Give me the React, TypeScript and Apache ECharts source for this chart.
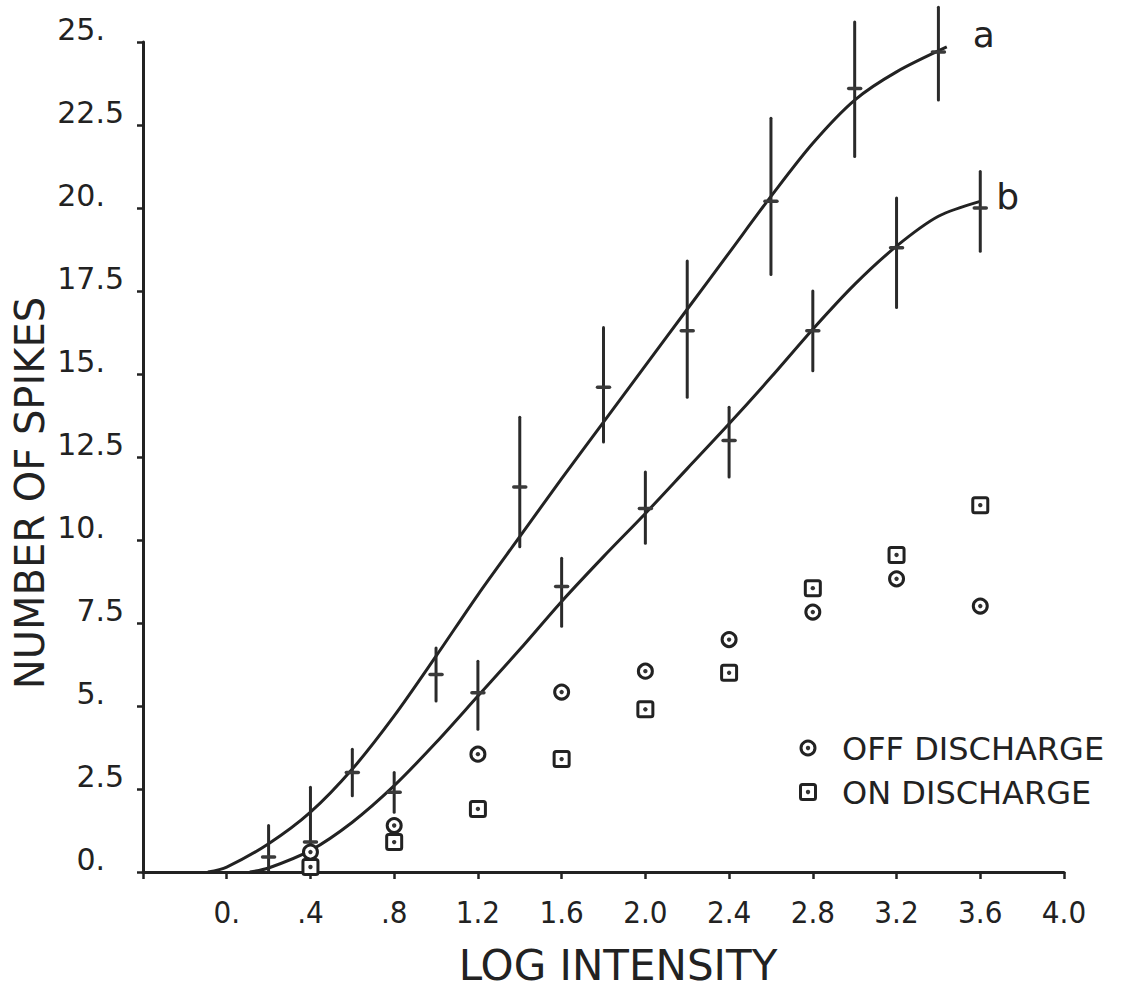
import React, { useEffect, useRef } from "react";
import * as echarts from "echarts";

// ---- data ----
const xTickLabels = ["", "0.", ".4", ".8", "1.2", "1.6", "2.0", "2.4", "2.8", "3.2", "3.6", "4.0"];
const yTickLabels = ["0.", "2.5", "5.", "7.5", "10.", "12.5", "15.", "17.5", "20.", "22.5", "25."];

// fitted curves (x, spikes)
const curveA: number[][] = [
  [-0.09, 0], [0.0, 0.15], [0.2, 0.85], [0.4, 1.8], [0.6, 3.1], [0.8, 4.7], [1.0, 6.5],
  [1.2, 8.35], [1.4, 10.1], [1.6, 11.85], [1.8, 13.55], [2.0, 15.25], [2.2, 16.95],
  [2.4, 18.65], [2.6, 20.35], [2.8, 21.95], [3.0, 23.25], [3.2, 24.1], [3.44, 24.85],
];
const curveB: number[][] = [
  [0.11, 0], [0.2, 0.12], [0.4, 0.65], [0.6, 1.5], [0.8, 2.6], [1.0, 3.9], [1.2, 5.3],
  [1.4, 6.7], [1.6, 8.15], [1.8, 9.5], [2.0, 10.8], [2.2, 12.15], [2.4, 13.5],
  [2.6, 14.9], [2.8, 16.35], [3.0, 17.7], [3.2, 18.85], [3.4, 19.75], [3.6, 20.2],
];

// error bars: [x, mean, low, high]
const barsA: number[][] = [
  [0.2, 0.45, 0.05, 1.4], [0.6, 3.0, 2.3, 3.7], [1.0, 5.95, 5.15, 6.75],
  [1.4, 11.6, 9.8, 13.7], [1.8, 14.6, 12.95, 16.4], [2.2, 16.3, 14.3, 18.4],
  [2.6, 20.2, 18.0, 22.7], [3.0, 23.6, 21.55, 25.6], [3.4, 24.7, 23.25, 26.05],
];
const barsB: number[][] = [
  [0.4, 0.9, 0, 2.55], [0.8, 2.4, 1.8, 3.0], [1.2, 5.4, 4.3, 6.35],
  [1.6, 8.6, 7.4, 9.45], [2.0, 10.95, 9.9, 12.05], [2.4, 13.0, 11.9, 14.0],
  [2.8, 16.3, 15.1, 17.5], [3.2, 18.8, 17.0, 20.3], [3.6, 20.0, 18.7, 21.1],
];

const dischargeX = [0.4, 0.8, 1.2, 1.6, 2.0, 2.4, 2.8, 3.2, 3.6];
const offDischarge = [0.6, 1.4, 3.55, 5.42, 6.05, 7.0, 7.83, 8.83, 8.01];
const onDischarge = [0.15, 0.9, 1.9, 3.4, 4.9, 6.0, 8.55, 9.55, 11.05];

const INK = "#222222";
const FONT = "'DejaVu Sans', 'Noto Sans', sans-serif";
const NARROW = "'DejaVu Sans Condensed', 'Liberation Sans Narrow', 'DejaVu Sans', sans-serif";

const ringMarker = (cx: number, cy: number) => ({
  type: "group",
  children: [
    { type: "circle", shape: { cx, cy, r: 7 }, style: { fill: "#fff", stroke: INK, lineWidth: 3 } },
    { type: "circle", shape: { cx, cy, r: 2.2 }, style: { fill: "#333" } },
  ],
});
const squareMarker = (cx: number, cy: number) => ({
  type: "group",
  children: [
    { type: "rect", shape: { x: cx - 7.5, y: cy - 7.5, width: 15, height: 15, r: 2 }, style: { fill: "#fff", stroke: INK, lineWidth: 3 } },
    { type: "circle", shape: { cx, cy, r: 2.2 }, style: { fill: "#333" } },
  ],
});

const errorBarRender = (_p: any, api: any) => {
  const x = api.value(0);
  const m = api.coord([x, api.value(1)]);
  const lo = api.coord([x, api.value(2)]);
  const hi = api.coord([x, api.value(3)]);
  return {
    type: "group",
    children: [
      { type: "line", shape: { x1: lo[0], y1: lo[1], x2: hi[0], y2: hi[1] }, style: { stroke: "#2a2a2a", lineWidth: 3, lineCap: "round" } },
      { type: "line", shape: { x1: m[0] - 6, y1: m[1], x2: m[0] + 6, y2: m[1] }, style: { stroke: "#3a3a3a", lineWidth: 3.5, lineCap: "round" } },
    ],
  };
};

export default function App() {
  const ref = useRef<HTMLDivElement>(null);
  useEffect(() => {
    document.body.style.margin = "0";
    const chart = echarts.init(ref.current!, null, { renderer: "svg" });
    const curveLine = (name: string, data: number[][], lbl: string, offset: number[]) => ({
      name,
      type: "line",
      data,
      smooth: 0.3,
      symbol: "none",
      z: 3,
      lineStyle: { color: INK, width: 3 },
      endLabel: { show: true, formatter: lbl, fontSize: 36, fontFamily: FONT, color: INK, offset },
    });
    chart.setOption({
      animation: false,
      backgroundColor: "#ffffff",
      grid: { left: 143, right: 60, top: 42, bottom: 116, containLabel: false },
      xAxis: {
        type: "value",
        min: -0.4,
        max: 4.0,
        interval: 0.4,
        splitLine: { show: false },
        axisLine: { onZero: false, lineStyle: { color: INK, width: 3 } },
        axisTick: { length: 7, lineStyle: { color: INK, width: 2.5 } },
        axisLabel: {
          margin: 24,
          fontSize: 31,
          fontFamily: NARROW,
          color: INK,
          formatter: (v: number) => xTickLabels[Math.round((v + 0.4) / 0.4)] ?? "",
        },
      },
      yAxis: {
        type: "value",
        min: 0,
        max: 25,
        interval: 2.5,
        splitLine: { show: false },
        axisLine: { onZero: false, lineStyle: { color: INK, width: 3 } },
        axisTick: { length: 6, lineStyle: { color: INK, width: 2.5 } },
        axisLabel: {
          margin: 19,
          color: INK,
          verticalAlign: "bottom",
          lineHeight: 26,
          formatter: (v: number) => {
            const s = yTickLabels[Math.round(v / 2.5)] ?? "";
            const k = s.indexOf(".");
            const frac = s.slice(k + 1);
            return `{i|${s.slice(0, k + 1)}}{f|${frac === "" ? "\u00a0" : frac}}`;
          },
          rich: {
            i: { fontSize: 30, fontFamily: FONT, color: INK, lineHeight: 26 },
            f: { fontSize: 30, fontFamily: FONT, color: INK, width: 19, lineHeight: 26 },
          },
        },
      },
      series: [
        curveLine("a", curveA, "a", [18, -12]),
        curveLine("b", curveB, "b", [8, -5]),
        { name: "bars a", type: "custom", clip: false, z: 4, data: barsA, renderItem: errorBarRender },
        { name: "bars b", type: "custom", clip: false, z: 4, data: barsB, renderItem: errorBarRender },
        {
          name: "OFF DISCHARGE",
          type: "custom",
          z: 5,
          clip: false,
          data: dischargeX.map((x, i) => [x, offDischarge[i]]),
          renderItem: (_p: any, api: any) => {
            const c = api.coord([api.value(0), api.value(1)]);
            return ringMarker(c[0], c[1]);
          },
        },
        {
          name: "ON DISCHARGE",
          type: "custom",
          z: 5,
          clip: false,
          data: dischargeX.map((x, i) => [x, onDischarge[i]]),
          renderItem: (_p: any, api: any) => {
            const c = api.coord([api.value(0), api.value(1)]);
            return squareMarker(c[0], c[1]);
          },
        },
      ],
      graphic: [
        {
          type: "text",
          x: 30,
          y: 493,
          rotation: Math.PI / 2,
          style: { text: "NUMBER OF SPIKES", fontSize: 40, fontFamily: FONT, fill: INK, align: "center", verticalAlign: "middle" },
        },
        {
          type: "text",
          x: 618,
          y: 965,
          style: { text: "LOG INTENSITY", fontSize: 42, fontFamily: FONT, fill: INK, align: "center", verticalAlign: "middle" },
        },
        { type: "group", children: [ringMarker(808, 748)] },
        { type: "text", x: 842, y: 749, style: { text: "OFF DISCHARGE", fontSize: 32, fontFamily: FONT, fill: INK, verticalAlign: "middle" } },
        { type: "group", children: [squareMarker(808, 792)] },
        { type: "text", x: 842, y: 793, style: { text: "ON DISCHARGE", fontSize: 32, fontFamily: FONT, fill: INK, verticalAlign: "middle" } },
      ],
    });
    return () => chart.dispose();
  }, []);
  return <div ref={ref} style={{ width: 1124, height: 988 }} />;
}
